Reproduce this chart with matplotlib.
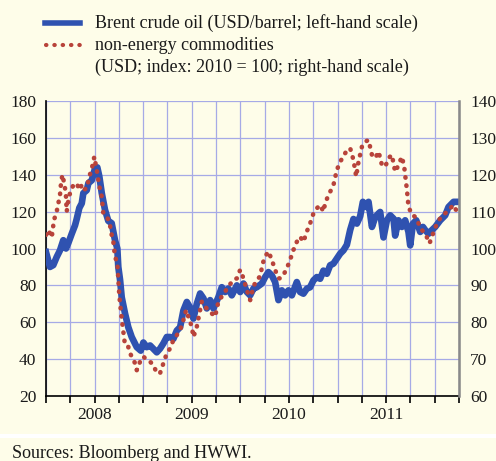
import matplotlib
matplotlib.use('Agg')
import matplotlib.pyplot as plt
from matplotlib.lines import Line2D
from matplotlib.patches import Rectangle

plt.rcParams['font.family'] = ['Liberation Serif', 'DejaVu Serif']
plt.rcParams['font.size'] = 13

# Brent crude oil, USD/barrel (left-hand scale)
brent_t = [2008.000, 2008.041, 2008.075, 2008.110, 2008.144, 2008.178, 2008.206, 2008.230,
           2008.265, 2008.299, 2008.316, 2008.343, 2008.368, 2008.384, 2008.419, 2008.436,
           2008.471, 2008.505, 2008.528, 2008.549, 2008.574, 2008.607, 2008.641, 2008.676,
           2008.710, 2008.734, 2008.744, 2008.762, 2008.779, 2008.813, 2008.847, 2008.882,
           2008.934, 2008.975, 2009.002, 2009.037, 2009.071, 2009.105, 2009.140, 2009.174,
           2009.208, 2009.243, 2009.277, 2009.311, 2009.346, 2009.380, 2009.414, 2009.449,
           2009.483, 2009.517, 2009.552, 2009.586, 2009.620, 2009.655, 2009.689, 2009.723,
           2009.774, 2009.809, 2009.843, 2009.877, 2009.912, 2009.964, 2009.998, 2010.032,
           2010.067, 2010.101, 2010.135, 2010.169, 2010.221, 2010.255, 2010.289, 2010.324,
           2010.358, 2010.392, 2010.427, 2010.461, 2010.495, 2010.530, 2010.581, 2010.615,
           2010.649, 2010.684, 2010.718, 2010.752, 2010.787, 2010.821, 2010.855, 2010.890,
           2010.924, 2010.958, 2010.993, 2011.027, 2011.061, 2011.096, 2011.130, 2011.164,
           2011.199, 2011.233, 2011.261, 2011.295, 2011.319, 2011.354, 2011.388, 2011.422,
           2011.439, 2011.473, 2011.508, 2011.542, 2011.576, 2011.593, 2011.627, 2011.662,
           2011.696, 2011.730, 2011.748, 2011.776, 2011.810, 2011.851, 2011.879, 2011.902,
           2011.936, 2011.971, 2012.005, 2012.057, 2012.108, 2012.142, 2012.194, 2012.245]
brent_v = [98, 90, 91, 95.4, 99, 104.5, 100, 103,
           108, 112.6, 116, 122, 124.5, 130, 131.6, 135.4,
           137, 143.6, 144, 139, 130, 121, 115, 113.7,
           104.5, 100, 90, 83, 73.6, 64.8, 57.3, 52,
           46.5, 44.6, 49, 46.5, 47.4, 45.6, 43.7, 45.7,
           48.5, 52, 52, 51, 55.5, 57.3, 66.4, 71,
           68, 62, 70, 75.6, 73, 67.5, 72, 67.5,
           73.6, 79, 76.4, 78.3, 74.6, 80, 76.4, 81,
           76.4, 74.6, 78.3, 79, 81, 84.5, 87.2, 85.4,
           81.8, 72, 77.3, 74.6, 77.3, 74.6, 81.8, 76.4,
           75.5, 78.2, 79, 82.7, 84.5, 83.6, 88, 86.3,
           90.9, 91.8, 94.5, 97.2, 99, 102, 110, 116,
           113.5, 117.5, 125.3, 122.5, 125.3, 111.7, 117, 119,
           119.8, 106, 115.3, 118, 116.2, 107, 115.3, 111.7,
           115.3, 109, 101.7, 113.5, 115.3, 109, 111.7, 110,
           108, 110, 111.7, 115.3, 118, 122.5, 125.3, 125.3]

# non-energy commodities, USD index 2010 = 100 (right-hand scale)
comm_t = [2008.000, 2008.024, 2008.059, 2008.082, 2008.110, 2008.127, 2008.144, 2008.151,
          2008.168, 2008.185, 2008.196, 2008.206, 2008.213, 2008.230, 2008.247, 2008.281,
          2008.316, 2008.343, 2008.368, 2008.384, 2008.419, 2008.446, 2008.471, 2008.487,
          2008.497, 2008.528, 2008.549, 2008.574, 2008.590, 2008.625, 2008.652, 2008.676,
          2008.693, 2008.710, 2008.734, 2008.755, 2008.779, 2008.803, 2008.813, 2008.847,
          2008.865, 2008.916, 2008.934, 2008.968, 2009.002, 2009.037, 2009.071, 2009.105,
          2009.140, 2009.174, 2009.208, 2009.243, 2009.277, 2009.311, 2009.346, 2009.380,
          2009.414, 2009.442, 2009.465, 2009.500, 2009.517, 2009.552, 2009.603, 2009.637,
          2009.671, 2009.706, 2009.740, 2009.774, 2009.809, 2009.843, 2009.877, 2009.929,
          2009.964, 2009.998, 2010.032, 2010.067, 2010.101, 2010.135, 2010.169, 2010.203,
          2010.231, 2010.255, 2010.289, 2010.324, 2010.358, 2010.392, 2010.409, 2010.443,
          2010.478, 2010.512, 2010.546, 2010.581, 2010.615, 2010.649, 2010.684, 2010.718,
          2010.752, 2010.787, 2010.821, 2010.855, 2010.873, 2010.907, 2010.942, 2010.958,
          2010.993, 2011.027, 2011.089, 2011.130, 2011.164, 2011.192, 2011.216, 2011.251,
          2011.285, 2011.319, 2011.354, 2011.388, 2011.422, 2011.457, 2011.491, 2011.525,
          2011.559, 2011.593, 2011.627, 2011.662, 2011.686, 2011.714, 2011.730, 2011.765,
          2011.799, 2011.833, 2011.868, 2011.902, 2011.947, 2011.971, 2012.023, 2012.057,
          2012.091, 2012.126, 2012.159, 2012.194, 2012.228, 2012.245]
comm_v = [103.7, 105, 103, 107.7, 110, 112.3, 114.5, 116.8,
          120, 118, 116.3, 114, 110, 113, 115, 117.2,
          117.7, 115.9, 117.2, 115.9, 116.3, 119.5, 121.7, 123.5,
          124.9, 120.4, 116.8, 114, 109.5, 108.6, 107.3, 103.7,
          101.8, 97.8, 96, 87, 81, 76, 73.8, 73.3,
          71.6, 68.9, 67, 69.3, 70.7, 69.8, 69.3, 68.4,
          66.2, 66.2, 68.9, 71.6, 72.9, 75.2, 76.5, 77.9,
          80.6, 83.3, 81.5, 78.8, 76, 78.8, 85.6, 84.2,
          83.3, 82.4, 81.5, 85.6, 87, 88.3, 89.7, 91.5,
          91.9, 94.2, 91.9, 88.7, 86, 89.7, 91.5, 92.4,
          96, 97.8, 99.2, 96.9, 94.2, 91.9, 91.9, 92.8,
          94.6, 96.9, 99.6, 101.8, 103.2, 101.8, 104.6, 106.8,
          109.5, 110.9, 111.8, 110, 112.3, 114.5, 116.3, 117.2,
          121.3, 123.5, 126.3, 127.2, 124, 119.5, 123.5, 127.6,
          129, 129.4, 125.4, 124.5, 126.3, 122.6, 122.2, 124.5,
          125.4, 120.8, 122.6, 124.9, 122.2, 115.9, 111.4, 109.1,
          108.6, 106.8, 105, 104.1, 101.4, 103.2, 106.8, 108.2,
          109.1, 110, 110.9, 111.8, 110, 109.1]

years = [2008, 2009, 2010, 2011]
quarters = [2008 + q / 4 for q in range(18)]

bg = '#fefde9'
blue = '#2f52b0'
red = '#b8433a'
grid_c = '#a6aae6'
txt = '#1a1a1a'

fig = plt.figure(figsize=(4.96, 4.61), dpi=100, facecolor=bg)
fig.patches.append(Rectangle((0, 0.050), 1, 0.009, transform=fig.transFigure,
                             facecolor='white', edgecolor='none'))

ax = fig.add_axes([46 / 496, 1 - 396 / 461, 413 / 496, 295 / 461])
ax.set_facecolor(bg)
ax2 = ax.twinx()

ax.plot(brent_t, brent_v, color=blue, lw=4.8, solid_joinstyle='round', zorder=3)
ax2.plot(comm_t, comm_v, color=red, lw=3.3, linestyle=(0, (0.1, 1.7)),
         dash_capstyle='round', zorder=4)

ax.set_xlim(2008, 2012.25)
ax.set_ylim(20, 180)
ax2.set_ylim(60, 140)
ax.set_yticks(range(20, 181, 20))
ax2.set_yticks(range(60, 141, 10))
ax.set_xticks(quarters)
ax.set_xticklabels([])
ax.tick_params(axis='x', direction='out', length=5, width=1.2, color='black')
ax.tick_params(axis='y', length=0, pad=7, labelcolor=txt, labelsize=12.5)
ax2.tick_params(axis='y', length=0, pad=8, labelcolor=txt, labelsize=12.5)
ax.grid(True, color=grid_c, lw=0.9, zorder=0)
ax.set_axisbelow(True)

for a in (ax, ax2):
    a.spines['top'].set_visible(False)
ax.spines['left'].set_linewidth(1.2)
ax.spines['bottom'].set_linewidth(1.2)
ax2.spines['left'].set_visible(False)
ax2.spines['bottom'].set_visible(False)
ax2.spines['right'].set_color('#8a8a8a')
ax2.spines['right'].set_linewidth(1.8)

# year labels centred under each year
sec = ax.secondary_xaxis('bottom')
sec.set_xticks([y + 0.5 for y in years])
sec.set_xticklabels([str(y) for y in years])
sec.tick_params(length=0, pad=8, labelcolor=txt, labelsize=12.5)
sec.spines['bottom'].set_visible(False)

# legend drawn by hand
fig.add_artist(Line2D([45 / 496, 80 / 496], [1 - 23 / 461] * 2, color=blue, lw=4,
                      transform=fig.transFigure))
fig.add_artist(Line2D([46 / 496, 80 / 496], [1 - 45 / 461] * 2, color=red, lw=3,
                      linestyle=(0, (0.1, 1.9)), dash_capstyle='round',
                      transform=fig.transFigure))
fig.text(95 / 496, 1 - 23 / 461, 'Brent crude oil (USD/barrel; left-hand scale)',
         va='center', ha='left', color=txt)
fig.text(95 / 496, 1 - 45 / 461, 'non-energy commodities', va='center', ha='left',
         color=txt)
fig.text(95 / 496, 1 - 67 / 461, '(USD; index: 2010 = 100; right-hand scale)',
         va='center', ha='left', color=txt)

fig.text(12 / 496, 1 - 453 / 461, 'Sources: Bloomberg and HWWI.', va='center',
         ha='left', color=txt)

fig.savefig('out.png', dpi=100, facecolor=bg)
